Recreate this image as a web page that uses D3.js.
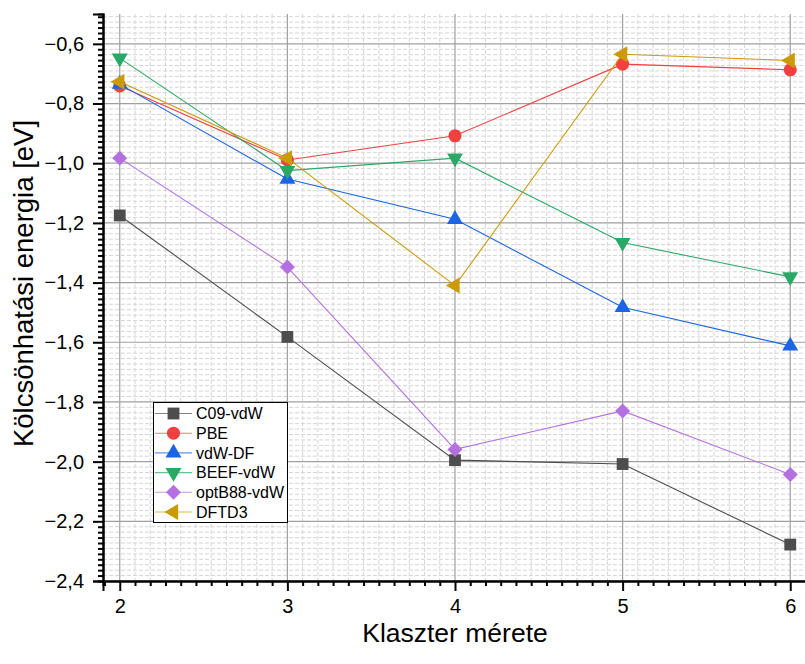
<!DOCTYPE html>
<html>
<head>
<meta charset="utf-8">
<script src="https://cdn.jsdelivr.net/npm/d3@7"></script>
<style>
  html, body { margin: 0; padding: 0; background: #fff; }
  svg { display: block; font-family: "Liberation Sans", Arial, sans-serif; }
</style>
</head>
<body>
<svg id="chart" width="805" height="664"></svg>
<script>
// Cluster sizes on the x axis
const sizes = [2, 3, 4, 5, 6];

// Interaction energies (eV) per functional
const c09vdw   = [-1.175, -1.582, -1.995, -2.008, -2.278];
const pbe      = [-0.741, -0.989, -0.908, -0.668, -0.687];
const vdwdf    = [-0.735, -1.053, -1.188, -1.483, -1.612];
const beefvdw  = [-0.648, -1.025, -0.983, -1.266, -1.381];
const optb88   = [-0.983, -1.348, -1.959, -1.830, -2.043];
const dftd3    = [-0.727, -0.983, -1.410, -0.635, -0.656];

const seriesNames = ["C09-vdW", "PBE", "vdW-DF", "BEEF-vdW", "optB88-vdW", "DFTD3"];
const seriesValues = [c09vdw, pbe, vdwdf, beefvdw, optb88, dftd3];
const seriesColors = ["#4d4d4d", "#f23f3f", "#1c64e2", "#2aa865", "#b46fe0", "#cc9a05"];
const seriesMarkers = ["square", "circle", "triUp", "triDown", "diamond", "triLeft"];

const yTicks = [-2.4, -2.2, -2.0, -1.8, -1.6, -1.4, -1.2, -1.0, -0.8, -0.6];
const xTicks = [2, 3, 4, 5, 6];

const xTitle = "Klaszter mérete";
const yTitle = "Kölcsönhatási energia [eV]";

const svg = d3.select("#chart");
const pLeft = 103, pRight = 807, pTop = 14, pBottom = 581;

const x = d3.scaleLinear().domain([1.9, 6.1]).range([pLeft, pRight]);
const y = d3.scaleLinear().domain([-2.4, -0.5]).range([pBottom, pTop]);

// Decimal comma and a true minus sign on the value axis
const fmt = v => d3.format(".1f")(v).replace(".", ",").replace("-", "\u2212");

// Minor positions: ten minor ticks between neighbouring majors
const xMinor = [];
for (let i = 1; i < 7; i++) for (let k = 1; k <= 10; k++) xMinor.push(i + k / 11);
const yMinor = [];
for (let i = 0; i < 10; i++) for (let k = 1; k <= 10; k++) yMinor.push(-2.4 + i * 0.2 + k * 0.2 / 11);
const xMinorIn = xMinor.filter(v => v > 1.9 && v < 6.1);
const yMinorIn = yMinor.filter(v => v > -2.4 && v < -0.5);

const grid = svg.append("g");
// Minor grid (dashed)
grid.selectAll(".gxm").data(xMinorIn).join("line")
  .attr("x1", d => x(d)).attr("x2", d => x(d)).attr("y1", pTop).attr("y2", pBottom)
  .attr("stroke", "#d6d6d6").attr("stroke-width", 1).attr("stroke-dasharray", "4,2");
grid.selectAll(".gym").data(yMinorIn).join("line")
  .attr("x1", pLeft).attr("x2", pRight).attr("y1", d => y(d)).attr("y2", d => y(d))
  .attr("stroke", "#d6d6d6").attr("stroke-width", 1).attr("stroke-dasharray", "4,2");
// Major grid (solid)
grid.selectAll(".gx").data(xTicks).join("line")
  .attr("x1", d => x(d)).attr("x2", d => x(d)).attr("y1", pTop).attr("y2", pBottom)
  .attr("stroke", "#a0a0a0").attr("stroke-width", 1.2);
grid.selectAll(".gy").data(yTicks).join("line")
  .attr("x1", pLeft).attr("x2", pRight).attr("y1", d => y(d)).attr("y2", d => y(d))
  .attr("stroke", "#a0a0a0").attr("stroke-width", 1.2);

// Axes
const xAxis = d3.axisBottom(x).tickValues(xTicks).tickSize(10).tickPadding(7.5).tickFormat(d3.format("d"));
const yAxis = d3.axisLeft(y).tickValues(yTicks).tickSize(10).tickPadding(9).tickFormat(fmt);
const xMinorAxis = d3.axisBottom(x).tickValues(xMinorIn).tickSize(5).tickFormat("");
const yMinorAxis = d3.axisLeft(y).tickValues(yMinorIn).tickSize(5).tickFormat("");

function styleAxis(g) {
  g.select(".domain").attr("stroke", "#000").attr("stroke-width", 2);
  g.selectAll(".tick line").attr("stroke", "#000").attr("stroke-width", 2);
}

svg.append("g").attr("transform", `translate(0,${pBottom})`).call(xMinorAxis).call(styleAxis);
svg.append("g").attr("transform", `translate(${pLeft},0)`).call(yMinorAxis).call(styleAxis);
const gx = svg.append("g").attr("transform", `translate(0,${pBottom})`).call(xAxis).call(styleAxis);
const gy = svg.append("g").attr("transform", `translate(${pLeft},0)`).call(yAxis).call(styleAxis);
gx.selectAll("text").attr("font-size", 20).attr("fill", "#000").attr("font-family", "Liberation Sans, Arial, sans-serif");
gy.selectAll("text").attr("font-size", 20).attr("fill", "#000").attr("font-family", "Liberation Sans, Arial, sans-serif");

// Axis titles
svg.append("text").attr("x", (x(2) + x(6)) / 2).attr("y", 641.5)
  .attr("text-anchor", "middle").attr("font-size", 26.5).text(xTitle);
svg.append("text").attr("transform", `translate(33,${(pTop + pBottom) / 2 - 14}) rotate(-90)`)
  .attr("text-anchor", "middle").attr("font-size", 27.5).text(yTitle);

// Marker shapes
function markerPath(kind) {
  switch (kind) {
    case "square":  return d3.symbol(d3.symbolSquare, 140)();
    case "circle":  return d3.symbol(d3.symbolCircle, 135)();
    case "diamond": return d3.symbol(d3.symbolSquare, 112)();
    default:        return d3.symbol(d3.symbolTriangle, 110)();
  }
}
function markerRot(kind) {
  return { diamond: 45, triDown: 180, triLeft: -90 }[kind] || 0;
}

const line = d3.line().x((d, i) => x(sizes[i])).y(d => y(d));

const plot = svg.append("g");
seriesValues.forEach((vals, s) => {
  const g = plot.append("g");
  g.append("path").datum(vals).attr("d", line)
    .attr("fill", "none").attr("stroke", seriesColors[s]).attr("stroke-width", 1.1);
  g.selectAll("path.m").data(vals).join("path").attr("class", "m")
    .attr("d", markerPath(seriesMarkers[s]))
    .attr("transform", (d, i) => `translate(${x(sizes[i])},${y(d)}) rotate(${markerRot(seriesMarkers[s])})`)
    .attr("fill", seriesColors[s]);
});

// Legend
const lg = svg.append("g");
lg.append("rect").attr("x", 153.5).attr("y", 402.5).attr("width", 134).attr("height", 120)
  .attr("fill", "#fff").attr("stroke", "#000").attr("stroke-width", 1);
seriesNames.forEach((name, s) => {
  const cy = 413.5 + s * 19.7;
  lg.append("line").attr("x1", 155).attr("x2", 192).attr("y1", cy).attr("y2", cy)
    .attr("stroke", seriesColors[s]).attr("stroke-width", 1.1).attr("stroke-opacity", 0.7);
  lg.append("path").attr("d", markerPath(seriesMarkers[s]))
    .attr("transform", `translate(173.5,${cy}) rotate(${markerRot(seriesMarkers[s])})`)
    .attr("fill", seriesColors[s]);
  lg.append("text").attr("x", 196).attr("y", cy + 5.8).attr("font-size", 16).attr("fill", "#000").text(name);
});
</script>
</body>
</html>
